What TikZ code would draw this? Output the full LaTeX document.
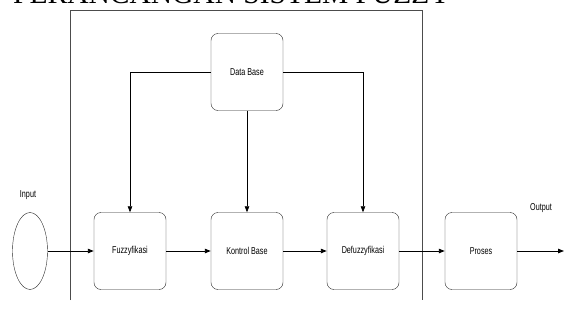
\documentclass[tikz,border=0pt]{standalone}
\usepackage{fontspec}
\setmainfont{Liberation Serif}
\newfontfamily\lblfont[FakeStretch=0.72]{Liberation Sans}
\usetikzlibrary{arrows.meta,positioning,shapes.geometric}
\tikzset{blok/.style = {draw = black!85, rounded corners = 7pt, minimum width = 72pt,
                        minimum height = 77pt, font = \lblfont\fontsize{10}{12}\selectfont},
         panah/.style = {-{Triangle[length = 6pt, width = 4.5pt]}, line width = 0.9pt}}
\begin{document}
\begin{tikzpicture}[x = 1pt, y = 1pt]
            \useasboundingbox (0, 0) rectangle (566, 325);
            \clip (0, 0) rectangle (566, 325);
            \node[anchor = base west, inner sep = 0, font = \fontsize{29.5}{32}\selectfont] (judul) at (13, 321.5) {PERANCANGAN SISTEM FUZZY};
            \draw[black!70, line width = 0.7pt] (70, 25) -- (70, 315) -- (422, 315) -- (422, 25);
            \node[blok] (db) at (247, 253) {Data Base};
            \node[draw = black!85, ellipse, minimum width = 35pt, minimum height = 77pt] (in) at (30, 74) {};
            \node[blok] (fz) at (130, 74) {Fuzzyfikasi};
            \node[blok] (kb) at (247, 74) {Kontrol Base};
            \node[blok] (dfz) at (363, 74) {Defuzzyfikasi};
            \node[blok] (pr) at (481, 74) {Proses};
            \node[font = \lblfont\fontsize{10}{12}\selectfont] (lin) at (28, 130) {Input};
            \node[font = \lblfont\fontsize{10}{12}\selectfont] (lout) at (541, 117) {Output};
            \coordinate (out) at (564, 74);
            \foreach \a/\b in {in/fz, fz/kb, kb/dfz, dfz/pr, pr/out} {\draw[panah] (\a) -- (\b);};
            \draw[panah, line width = 0.6pt] (db.west) -| (fz.north);
            \draw[panah, line width = 0.6pt] (db.east) -| (dfz.north);
            \draw[panah, line width = 0.6pt] (db) -- (kb);
        \end{tikzpicture}
\end{document}
